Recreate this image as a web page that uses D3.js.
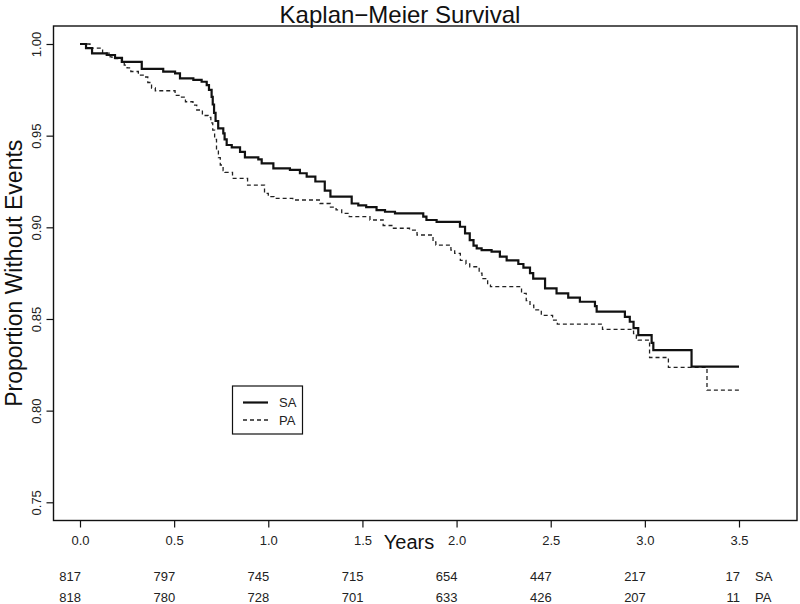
<!DOCTYPE html>
<html>
<head>
<meta charset="utf-8">
<script src="https://cdn.jsdelivr.net/npm/d3@7"></script>
<style>
  html, body { margin: 0; padding: 0; background: #fff; }
  svg { display: block; font-family: "Liberation Sans", Arial, Helvetica, sans-serif; }
</style>
</head>
<body>
<svg id="chart" width="800" height="604"></svg>
<script>
// ---- data ----
const title = "Kaplan\u2212Meier Survival";
const xLabel = "Years";
const yLabel = "Proportion Without Events";
const xTicks = [0, 0.5, 1.0, 1.5, 2.0, 2.5, 3.0, 3.5];
const yTicks = [0.75, 0.80, 0.85, 0.90, 0.95, 1.00];
const groups = ["SA", "PA"];
const riskTimes = [0, 0.5, 1.0, 1.5, 2.0, 2.5, 3.0, 3.5];
const riskSA = [817, 797, 745, 715, 654, 447, 217, 17];
const riskPA = [818, 780, 728, 701, 633, 426, 207, 11];

const saTime = [0, 0.032, 0.064, 0.142, 0.186, 0.223, 0.328, 0.442, 0.505, 0.531, 0.602, 0.646, 0.673, 0.685, 0.699, 0.705, 0.712, 0.72, 0.734, 0.761, 0.768, 0.779, 0.806, 0.850, 0.876, 0.947, 0.965, 1.027, 1.115, 1.168, 1.204, 1.25, 1.30, 1.33, 1.443, 1.478, 1.52, 1.575, 1.62, 1.673, 1.823, 1.84, 1.894, 2.018, 2.045, 2.07, 2.09, 2.107, 2.133, 2.186, 2.23, 2.266, 2.328, 2.355, 2.39, 2.407, 2.47, 2.531, 2.593, 2.655, 2.735, 2.744, 2.894, 2.92, 2.94, 2.965, 3.036, 3.045, 3.248, 3.5];
const saSurv = [1.000, 0.9977, 0.9949, 0.9940, 0.9924, 0.9903, 0.9864, 0.9849, 0.9840, 0.9813, 0.9804, 0.9794, 0.9776, 0.9750, 0.9712, 0.9670, 0.9624, 0.9580, 0.9540, 0.9513, 0.9480, 0.9449, 0.9436, 0.9412, 0.9382, 0.9371, 0.9349, 0.9322, 0.9313, 0.9295, 0.9276, 0.9250, 0.9200, 0.9167, 0.9130, 0.9120, 0.9110, 0.9094, 0.9085, 0.9076, 0.9058, 0.9040, 0.9030, 0.9003, 0.8967, 0.8930, 0.8900, 0.8885, 0.8876, 0.8867, 0.8840, 0.8820, 0.8800, 0.8780, 0.8750, 0.8720, 0.8667, 0.8640, 0.8616, 0.8594, 0.8570, 0.8540, 0.8512, 0.8485, 0.8450, 0.8412, 0.8370, 0.8330, 0.8240, 0.8240];

const paTime = [0, 0.053, 0.12, 0.16, 0.17, 0.22, 0.235, 0.25, 0.27, 0.31, 0.345, 0.36, 0.38, 0.40, 0.505, 0.53, 0.56, 0.60, 0.62, 0.65, 0.68, 0.695, 0.705, 0.715, 0.725, 0.735, 0.745, 0.760, 0.77, 0.81, 0.89, 0.98, 1.0, 1.03, 1.13, 1.275, 1.33, 1.36, 1.39, 1.43, 1.54, 1.61, 1.66, 1.75, 1.79, 1.875, 1.89, 1.97, 1.99, 2.02, 2.05, 2.07, 2.12, 2.135, 2.165, 2.18, 2.345, 2.37, 2.39, 2.41, 2.45, 2.51, 2.535, 2.775, 2.94, 2.955, 2.965, 3.025, 3.125, 3.33, 3.5];
const paSurv = [1.000, 0.9977, 0.9950, 0.9930, 0.9920, 0.9900, 0.9885, 0.9870, 0.9850, 0.9830, 0.9820, 0.9790, 0.9760, 0.9745, 0.9720, 0.9710, 0.9685, 0.9667, 0.9640, 0.9610, 0.9600, 0.9570, 0.9530, 0.9480, 0.9420, 0.9380, 0.9340, 0.9310, 0.9300, 0.9267, 0.9230, 0.9185, 0.9167, 0.9158, 0.9149, 0.9130, 0.9110, 0.9095, 0.9076, 0.9058, 0.9040, 0.9010, 0.8995, 0.8985, 0.8958, 0.8920, 0.8903, 0.8876, 0.8858, 0.8820, 0.8800, 0.8785, 0.8750, 0.8720, 0.8685, 0.8676, 0.8640, 0.8600, 0.8576, 0.8550, 0.8520, 0.8494, 0.8472, 0.8443, 0.8420, 0.8394, 0.8385, 0.8290, 0.8236, 0.8112, 0.8112];

// ---- layout ----
const svg = d3.select("#chart");
const box = { left: 53.5, top: 26, right: 797, bottom: 520.5 };
const x = d3.scaleLinear().domain([0, 3.5]).range([80, 739]);
const y = d3.scaleLinear().domain([0.75, 1.00]).range([502.3, 44]);
const ink = "#111";

// title
svg.append("text")
  .attr("x", 400).attr("y", 23)
  .attr("text-anchor", "middle")
  .attr("font-size", 24).attr("fill", ink)
  .text(title);

// plot box
svg.append("rect")
  .attr("x", box.left).attr("y", box.top)
  .attr("width", box.right - box.left).attr("height", box.bottom - box.top)
  .attr("fill", "none").attr("stroke", ink).attr("stroke-width", 1.4);

// y axis
const yAxis = d3.axisLeft(y).tickValues(yTicks).tickFormat(d3.format(".2f")).tickSize(7).tickPadding(0);
const gy = svg.append("g").attr("transform", `translate(${box.left},0)`).call(yAxis);
gy.select(".domain").remove();
gy.selectAll(".tick line").attr("stroke", ink).attr("stroke-width", 1.2);
gy.selectAll(".tick text")
  .attr("font-size", 13).attr("fill", "#222")
  .attr("x", null).attr("dy", null)
  .attr("text-anchor", "middle")
  .attr("transform", "translate(-17,0) rotate(-90)")
  .attr("dy", "0.35em")
  .attr("font-family", "Liberation Sans, Arial, sans-serif");

// x axis
const xAxis = d3.axisBottom(x).tickValues(xTicks).tickFormat(d3.format(".1f")).tickSize(7).tickPadding(8);
const gx = svg.append("g").attr("transform", `translate(0,${box.bottom})`).call(xAxis);
gx.select(".domain").remove();
gx.selectAll(".tick line").attr("stroke", ink).attr("stroke-width", 1.2);
gx.selectAll(".tick text").attr("font-size", 13).attr("fill", "#222")
  .attr("font-family", "Liberation Sans, Arial, sans-serif");

// axis labels
svg.append("text")
  .attr("x", 409).attr("y", 549)
  .attr("text-anchor", "middle")
  .attr("font-size", 20).attr("fill", ink)
  .text(xLabel);

svg.append("text")
  .attr("transform", `translate(22,${(box.top + box.bottom) / 2}) rotate(-90)`)
  .attr("text-anchor", "middle")
  .attr("font-size", 23).attr("fill", ink)
  .text(yLabel);

// curves
const line = d3.line().x(d => x(d[0])).y(d => y(d[1])).curve(d3.curveStepAfter);
const saData = saTime.map((t, i) => [t, saSurv[i]]);
const paData = paTime.map((t, i) => [t, paSurv[i]]);

svg.append("path").datum(paData)
  .attr("d", line).attr("fill", "none")
  .attr("stroke", "#222").attr("stroke-width", 1.3)
  .attr("stroke-dasharray", "4,3");

svg.append("path").datum(saData)
  .attr("d", line).attr("fill", "none")
  .attr("stroke", ink).attr("stroke-width", 2.2);

// legend
const lg = svg.append("g");
lg.append("rect")
  .attr("x", 232.5).attr("y", 386).attr("width", 70).attr("height", 48)
  .attr("fill", "#fff").attr("stroke", ink).attr("stroke-width", 1.2);
const legendStyles = [
  { w: 2.2, dash: null, col: ink },
  { w: 1.3, dash: "4,3", col: "#222" }
];
groups.forEach((g, i) => {
  const yy = 402.5 + i * 17.5;
  lg.append("line")
    .attr("x1", 243).attr("x2", 268).attr("y1", yy).attr("y2", yy)
    .attr("stroke", legendStyles[i].col).attr("stroke-width", legendStyles[i].w)
    .attr("stroke-dasharray", legendStyles[i].dash);
  lg.append("text")
    .attr("x", 279).attr("y", yy).attr("dy", "0.35em")
    .attr("font-size", 13).attr("fill", "#222")
    .text(g);
});

// number at risk table
const rows = [riskSA, riskPA];
const rowY = [576, 597];
rows.forEach((r, k) => {
  svg.append("g").selectAll("text")
    .data(r)
    .join("text")
    .attr("x", (d, i) => x(riskTimes[i]) + 1)
    .attr("y", rowY[k]).attr("dy", "0.35em")
    .attr("text-anchor", "end")
    .attr("font-size", 13).attr("fill", "#222")
    .text(d => d);
  svg.append("text")
    .attr("x", x(3.5) + 16).attr("y", rowY[k]).attr("dy", "0.35em")
    .attr("font-size", 13).attr("fill", "#222")
    .text(groups[k]);
});
</script>
</body>
</html>
